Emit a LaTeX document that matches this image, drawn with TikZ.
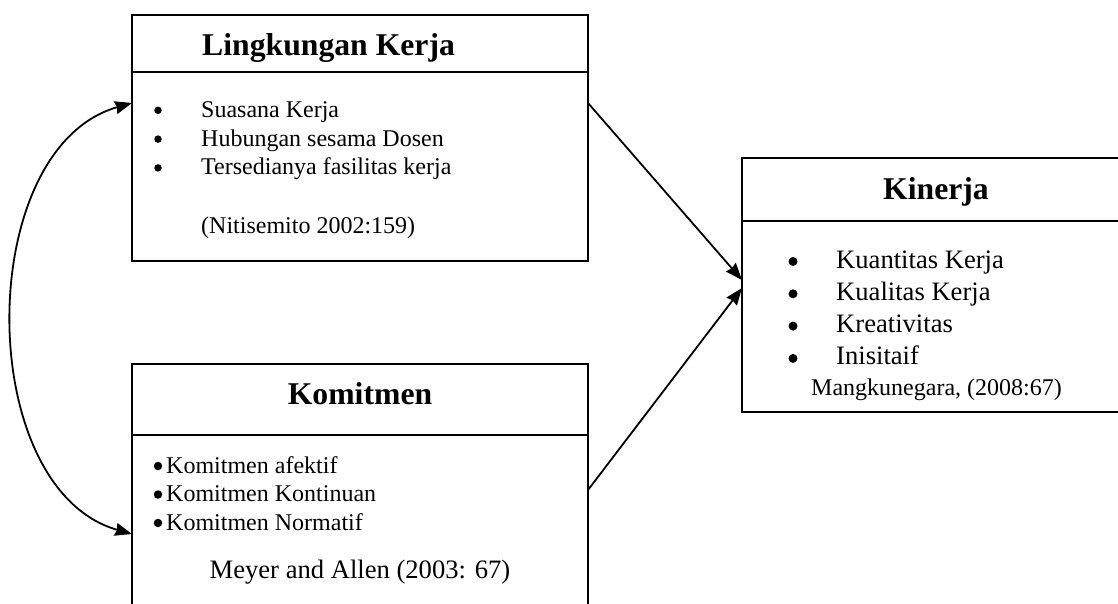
\documentclass[tikz,border=0pt]{standalone}
\usepackage{fontspec}
\setmainfont{Liberation Serif}
\usetikzlibrary{arrows.meta,calc}

\tikzset{
  box/.style={draw, line width=2.2pt, inner sep=0pt, outer sep=0pt, anchor=north west},
  title/.style={anchor=base, inner sep=0pt, font=\fontsize{31.7}{38}\selectfont\bfseries},
  item/.style={anchor=base west, inner sep=0pt, font=\fontsize{24}{29}\selectfont},
  bigitem/.style={item, font=\fontsize{26.6}{32}\selectfont},
  dot/.style={circle, fill, inner sep=0pt, minimum size=#1},
  dot/.default=7.5pt,
  link/.style={line width=1.8pt, >={Stealth[length=17pt,width=13pt,inset=1.5pt]}}
}

\begin{document}
\begin{tikzpicture}[x=1pt,y=-1pt]
  \useasboundingbox (0,0) rectangle (1118,603);
  \clip (0,0) rectangle (1118,603);

  % Lingkungan Kerja
  \node[box, minimum width=456pt, minimum height=57pt] (lkhead) at (132,15) {};
  \node[box, minimum width=456pt, minimum height=189pt] (lkbody) at (132,72) {};
  \node[title, anchor=base west] (lktitle) at (202,55) {Lingkungan Kerja};
  \foreach \t [count=\i] in {Suasana Kerja, Hubungan sesama Dosen, Tersedianya fasilitas kerja}{
    \node[dot] (lkdot\i) at (158,{81.5+28.8*\i}) {};
    \node[item] (lkitem\i) at (201,{88.5+28.8*\i}) {\t};
  }
  \node[item] (lkref) at (201,233) {(Nitisemito 2002:159)};

  % Komitmen
  \node[box, minimum width=456pt, minimum height=71pt] (kmhead) at (132,364) {};
  \node[box, minimum width=456pt, minimum height=250pt] (kmbody) at (132,435) {};
  \node[title] (kmtitle) at (360,404) {Komitmen};
  \foreach \t [count=\i] in {Komitmen afektif, Komitmen Kontinuan, Komitmen Normatif}{
    \node[dot=8.5pt] (kmdot\i) at (158,{437.5+28.5*\i}) {};
    \node[item] (kmitem\i) at (166,{444.5+28.5*\i}) {\t};
  }
  \node[bigitem, anchor=base] (kmref) at (360,578) {Meyer and Allen (2003: 67)};

  % Kinerja
  \node[box, minimum width=388pt, minimum height=63pt] (knhead) at (742,158) {};
  \node[box, minimum width=388pt, minimum height=191pt] (knbody) at (742,221) {};
  \node[title] (kntitle) at (936,199) {Kinerja};
  \foreach \t [count=\i] in {Kuantitas Kerja, Kualitas Kerja, Kreativitas, Inisitaif}{
    \node[dot=9pt] (kndot\i) at (793,{229.2+32.3*\i}) {};
    \node[bigitem] (knitem\i) at (836,{235.7+32.3*\i}) {\t};
  }
  \node[item] (knref) at (811,395) {Mangkunegara, (2008:67)};

  % arrows
  \draw[link, ->] ([yshift=-31pt]lkbody.north east) -- ([yshift=-59pt]knbody.north west);
  \draw[link, ->] ([yshift=-55pt]kmbody.north east) -- ([yshift=-67pt]knbody.north west);
  \draw[link, <->] ([yshift=-31pt]lkbody.north west)
    .. controls +(-158.7,45) and +(-158.7,-45) .. ([yshift=-99pt]kmbody.north west);
\end{tikzpicture}
\end{document}
